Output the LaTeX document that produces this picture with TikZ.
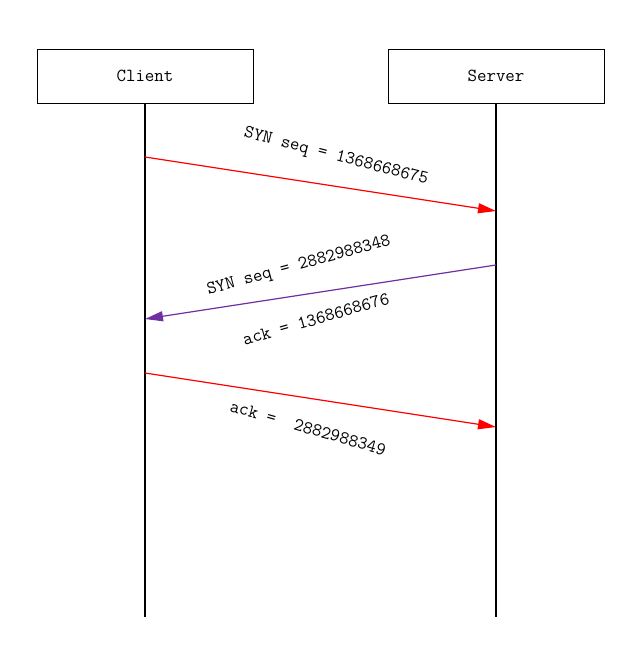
\documentclass[tikz,border=0pt]{standalone}
\usetikzlibrary{arrows.meta}
\definecolor{synred}{RGB}{255,0,0}
\definecolor{synpurple}{RGB}{112,48,160}
\begin{document}
\begin{tikzpicture}[x=0.75pt,y=-0.75pt,
  actor/.style={draw=black,line width=0.75pt,minimum width=162pt,minimum height=40.5pt,inner sep=0pt,font=\ttfamily\fontsize{13.8}{16}\selectfont},
  lifeline/.style={draw=black,line width=0.9pt},
  msg/.style={line width=0.9pt,-{Triangle[length=13.5pt,width=7.5pt]}},
  lbl/.style={font=\ttfamily\fontsize{13.8}{16}\selectfont,inner sep=0pt}]
\useasboundingbox (0,0) rectangle (635,665);
\node[actor] (client) at (145,76) {Client};
\node[actor] (server) at (496,76) {Server};
\coordinate (cend) at (145,617);
\coordinate (send) at (496,617);
\draw[lifeline] (client.south) -- (cend);
\draw[lifeline] (server.south) -- (send);
\coordinate (c1) at (145,157);
\coordinate (s1) at (496,211);
\coordinate (s2) at (496,265);
\coordinate (c2) at (145,319);
\coordinate (c3) at (145,373);
\coordinate (s3) at (496,427);
\draw[msg,color=synred] (c1) -- (s1);
\draw[msg,color=synpurple] (s2) -- (c2);
\draw[msg,color=synred] (c3) -- (s3);
\node[lbl,rotate=-14.5] (l1) at (336,157) {SYN seq = 1368668675};
\node[lbl,rotate=15.3] (l2) at (299,266) {SYN seq = 2882988348};
\node[lbl,rotate=16] (l3) at (316,319) {ack = 1368668676};
\node[lbl,rotate=-16] (l4) at (308,428) {ack =~ 2882988349};
\end{tikzpicture}
\end{document}
